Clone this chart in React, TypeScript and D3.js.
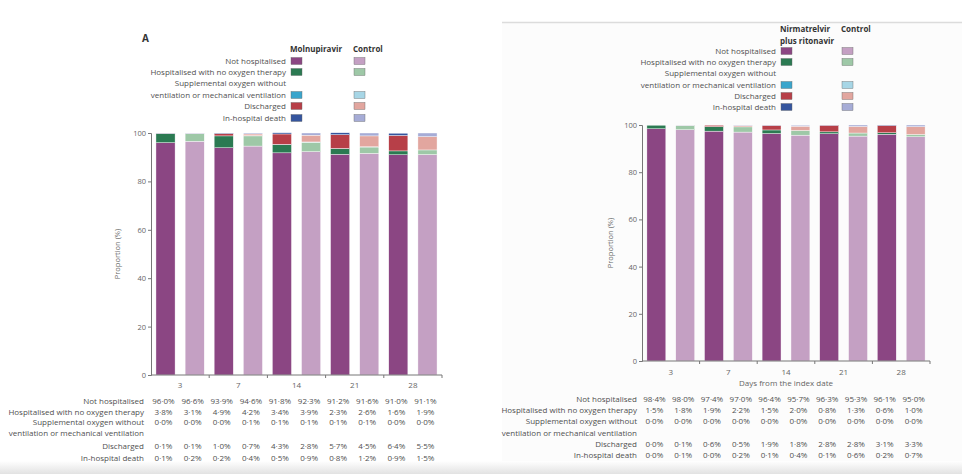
import React, { useEffect, useRef } from 'react';
import * as d3 from 'd3';

// days from the index date, two bars (treatment, control) per day
const days = ['3', '7', '14', '21', '28'];
const outcomeKeys = ['notHosp', 'hospNoO2', 'suppO2', 'discharged', 'death'];
const outcomeLabels = [
    ['Not hospitalised'],
    ['Hospitalised with no oxygen therapy'],
    ['Supplemental oxygen without', 'ventilation or mechanical ventilation'],
    ['Discharged'],
    ['In-hospital death'],
];
const yTicks = [0, 20, 40, 60, 80, 100];

// panel A: molnupiravir vs control (alternating treatment, control per day)
const molNotHosp = [96.0, 96.6, 93.9, 94.6, 91.8, 92.3, 91.2, 91.6, 91.0, 91.1];
const molHospNoO2 = [3.8, 3.1, 4.9, 4.2, 3.4, 3.9, 2.3, 2.6, 1.6, 1.9];
const molSuppO2 = [0.0, 0.0, 0.0, 0.1, 0.1, 0.1, 0.1, 0.1, 0.0, 0.0];
const molDischarged = [0.1, 0.1, 1.0, 0.7, 4.3, 2.8, 5.7, 4.5, 6.4, 5.5];
const molDeath = [0.1, 0.2, 0.2, 0.4, 0.5, 0.9, 0.8, 1.2, 0.9, 1.5];

// panel B: nirmatrelvir plus ritonavir vs control
const nirNotHosp = [98.4, 98.0, 97.4, 97.0, 96.4, 95.7, 96.3, 95.3, 96.1, 95.0];
const nirHospNoO2 = [1.5, 1.8, 1.9, 2.2, 1.5, 2.0, 0.8, 1.3, 0.6, 1.0];
const nirSuppO2 = [0.0, 0.0, 0.0, 0.0, 0.0, 0.0, 0.0, 0.0, 0.0, 0.0];
const nirDischarged = [0.0, 0.1, 0.6, 0.5, 1.9, 1.8, 2.8, 2.8, 3.1, 3.3];
const nirDeath = [0.0, 0.1, 0.0, 0.2, 0.1, 0.4, 0.1, 0.6, 0.2, 0.7];

const treatColors = ['#8b4683', '#2b7a52', '#3aa5cc', '#b73f48', '#35559e'];
const controlColors = ['#c4a0c3', '#9ec8a7', '#a7d6e6', '#e2a69f', '#a6acd6'];

const FONT = '"Open Sans", "DejaVu Sans", sans-serif';
const TXT = '#505050';
const FS = 8;

interface PanelCfg {
    x0: number; x1: number; yTop: number; yBot: number;
    dayY: number; xTitleY: number | null;
    tableX: number; tableRows: number[];
    legendX: number; legendRows: number[]; swatchT: number; swatchC: number;
    headers: string[]; headerY: number;
    yLabelX: number;
    letter: string | null;
}

const drawPanel = (svg: d3.Selection<SVGSVGElement, unknown, null, undefined>, cfg: PanelCfg, series: number[][]) => {
    const rows = d3.range(10).map(i => {
        const r: { [k: string]: number } = { idx: i };
        outcomeKeys.forEach((k, j) => { r[k] = series[j][i]; });
        return r;
    });
    const stacked = d3.stack<any>().keys(outcomeKeys)(rows);

    const y = d3.scaleLinear().domain([0, 100]).range([cfg.yBot, cfg.yTop]);
    const xGroup = d3.scaleBand().domain(days).range([cfg.x0, cfg.x1]);
    const xArm = d3.scaleBand().domain(['t', 'c']).range([0, xGroup.bandwidth()])
        .paddingInner(0.345).paddingOuter(0.17);
    const barX = (i: number) => xGroup(days[Math.floor(i / 2)])! + xArm(i % 2 === 0 ? 't' : 'c')!;
    const barMid = (i: number) => barX(i) + xArm.bandwidth() / 2;

    const g = svg.append('g');

    // bars
    stacked.forEach((layer, j) => {
        g.append('g').selectAll('rect').data(layer).join('rect')
            .attr('x', (_d, i) => barX(i))
            .attr('width', xArm.bandwidth())
            .attr('y', d => y(d[1]))
            .attr('height', d => Math.max(0, y(d[0]) - y(d[1])))
            .attr('fill', (_d, i) => (i % 2 === 0 ? treatColors[j] : controlColors[j]))
            .attr('stroke', '#fff')
            .attr('stroke-width', 0.4);
    });

    // y axis
    const yAxis = g.append('g')
        .attr('transform', `translate(${cfg.x0},0)`)
        .call(d3.axisLeft(y).tickValues(yTicks).tickSize(3).tickPadding(2));
    yAxis.select('.domain').attr('stroke', '#777');
    yAxis.selectAll('.tick line').attr('stroke', '#777');
    yAxis.selectAll('.tick text').attr('fill', '#666').attr('font-size', 7.5).attr('font-family', FONT);

    g.append('text')
        .attr('transform', `translate(${cfg.yLabelX},${(cfg.yTop + cfg.yBot) / 2}) rotate(-90)`)
        .attr('text-anchor', 'middle')
        .attr('font-size', 7.5).attr('font-family', FONT).attr('fill', '#666')
        .text('Proportion (%)');

    // x axis
    g.append('line')
        .attr('x1', cfg.x0).attr('x2', cfg.x1).attr('y1', cfg.yBot).attr('y2', cfg.yBot)
        .attr('stroke', '#777');
    g.append('g').selectAll('line').data(days).join('line')
        .attr('x1', d => xGroup(d)! + xGroup.bandwidth())
        .attr('x2', d => xGroup(d)! + xGroup.bandwidth())
        .attr('y1', cfg.yBot).attr('y2', cfg.yBot + 3)
        .attr('stroke', '#777');
    g.append('g').selectAll('text').data(days).join('text')
        .attr('x', d => xGroup(d)! + xGroup.bandwidth() / 2)
        .attr('y', cfg.dayY)
        .attr('text-anchor', 'middle')
        .attr('font-size', FS).attr('font-family', FONT).attr('fill', '#666')
        .text(d => d);
    if (cfg.xTitleY !== null) {
        g.append('text')
            .attr('x', (cfg.x0 + cfg.x1) / 2).attr('y', cfg.xTitleY)
            .attr('text-anchor', 'middle')
            .attr('font-size', FS).attr('font-family', FONT).attr('fill', '#666')
            .text('Days from the index date');
    }

    // legend
    if (cfg.letter) {
        g.append('text').attr('x', cfg.legendX - 144).attr('y', 42)
            .attr('font-size', 10).attr('font-weight', 'bold').attr('font-family', FONT).attr('fill', '#333')
            .text(cfg.letter);
    }
    cfg.headers.forEach((h, k) => {
        g.append('text').attr('x', cfg.swatchT - 1).attr('y', cfg.headerY + k * 12)
            .attr('font-size', FS).attr('font-weight', 'bold').attr('font-family', FONT).attr('fill', '#333')
            .text(h);
    });
    g.append('text').attr('x', cfg.swatchC - 1).attr('y', cfg.headerY)
        .attr('font-size', FS).attr('font-weight', 'bold').attr('font-family', FONT).attr('fill', '#333')
        .text('Control');
    let li = 0;
    outcomeLabels.forEach((lines, j) => {
        lines.forEach(line => {
            g.append('text').attr('x', cfg.legendX).attr('y', cfg.legendRows[li])
                .attr('text-anchor', 'end')
                .attr('font-size', FS).attr('font-family', FONT).attr('fill', TXT)
                .text(line);
            li++;
        });
        const sy = cfg.legendRows[li - 1] - 6.5;
        g.append('rect').attr('x', cfg.swatchT).attr('y', sy).attr('width', 11).attr('height', 7)
            .attr('fill', treatColors[j]).attr('stroke', '#666').attr('stroke-width', 0.4);
        g.append('rect').attr('x', cfg.swatchC).attr('y', sy).attr('width', 11).attr('height', 7)
            .attr('fill', controlColors[j]).attr('stroke', '#666').attr('stroke-width', 0.4);
    });

    // table under the axis
    const fmt = (v: number) => d3.format('.1f')(v).replace('.', '·') + '%';
    let ri = 0;
    outcomeLabels.forEach((lines, j) => {
        const valueRow = cfg.tableRows[ri];
        lines.forEach(line => {
            g.append('text').attr('x', cfg.tableX).attr('y', cfg.tableRows[ri])
                .attr('text-anchor', 'end')
                .attr('font-size', FS).attr('font-family', FONT).attr('fill', TXT)
                .text(line);
            ri++;
        });
        g.append('g').selectAll('text').data(series[j]).join('text')
            .attr('x', (_d, i) => barMid(i) - 2)
            .attr('y', valueRow)
            .attr('text-anchor', 'middle')
            .attr('font-size', FS).attr('font-family', FONT).attr('fill', TXT)
            .text(d => fmt(d));
    });
};

const App: React.FC = () => {
    const svgRef = useRef<SVGSVGElement | null>(null);

    useEffect(() => {
        const svg = d3.select(svgRef.current!);
        svg.selectAll('*').remove();

        const defs = svg.append('defs');
        const grad = defs.append('linearGradient').attr('id', 'shade').attr('x1', 0).attr('x2', 0).attr('y1', 0).attr('y2', 1);
        grad.append('stop').attr('offset', '0%').attr('stop-color', '#ffffff');
        grad.append('stop').attr('offset', '100%').attr('stop-color', '#e2e2e2');

        svg.append('rect').attr('width', 962).attr('height', 474).attr('fill', '#fff');
        svg.append('rect').attr('x', 502).attr('y', 22).attr('width', 460).attr('height', 452).attr('fill', '#fcfcfc');
        svg.append('line').attr('x1', 502).attr('x2', 962).attr('y1', 22.5).attr('y2', 22.5)
            .attr('stroke', '#dcdcdc').attr('stroke-width', 1.5);
        svg.append('rect').attr('x', 0).attr('y', 461).attr('width', 962).attr('height', 13).attr('fill', 'url(#shade)');

        drawPanel(svg, {
            x0: 151, x1: 442, yTop: 133, yBot: 375,
            dayY: 388, xTitleY: null,
            tableX: 144, tableRows: [404, 415, 425, 436, 449, 461],
            legendX: 286, legendRows: [64, 75, 86, 98, 109, 121], swatchT: 291, swatchC: 354,
            headers: ['Molnupiravir'], headerY: 52,
            yLabelX: 120, letter: 'A',
        }, [molNotHosp, molHospNoO2, molSuppO2, molDischarged, molDeath]);

        drawPanel(svg, {
            x0: 642, x1: 930, yTop: 125, yBot: 361,
            dayY: 375, xTitleY: 386,
            tableX: 637, tableRows: [402, 413, 424, 436, 447, 458],
            legendX: 776, legendRows: [54, 65, 76, 88, 99, 110], swatchT: 781, swatchC: 842,
            headers: ['Nirmatrelvir', 'plus ritonavir'], headerY: 32,
            yLabelX: 613, letter: null,
        }, [nirNotHosp, nirHospNoO2, nirSuppO2, nirDischarged, nirDeath]);
    }, []);

    return (
        <svg ref={svgRef} width={962} height={474}
            style={{ position: 'absolute', left: 0, top: 0, display: 'block' }} />
    );
};

export default App;
